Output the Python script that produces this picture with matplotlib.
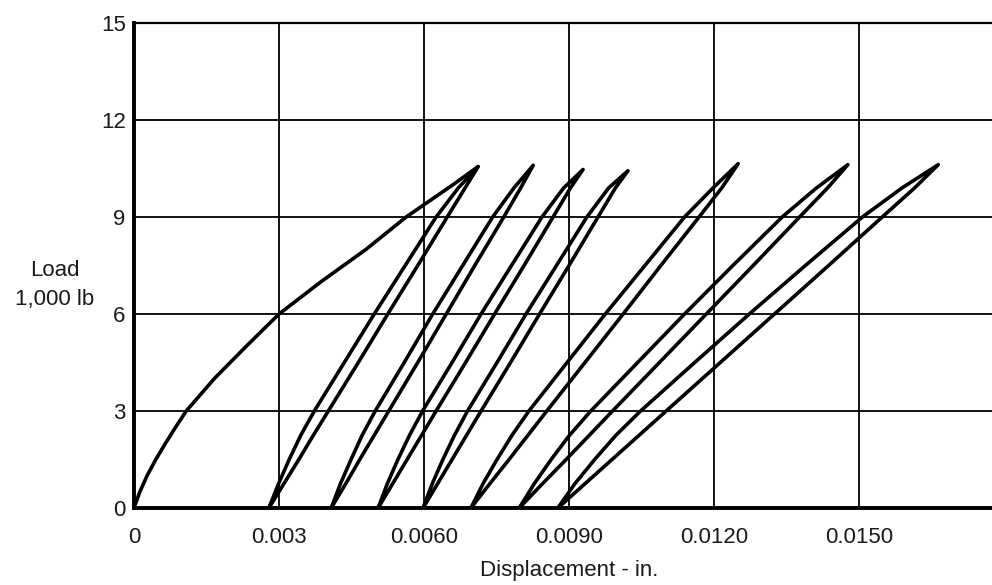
import numpy as np
import matplotlib.pyplot as plt

plt.rcParams['font.family'] = ['Liberation Sans', 'DejaVu Sans']

# ---- data ----
# first (virgin) loading curve
virgin_disp = [0, 0.00012, 0.00027, 0.00045, 0.00065, 0.00086, 0.00108, 0.00166, 0.00232,
               0.0030, 0.00387, 0.0048, 0.00563, 0.0066, 0.00712]
virgin_load = [0, 0.5, 1, 1.5, 2, 2.5, 3, 4, 5, 6, 7, 8, 9, 10, 10.56]

# load levels where the loop branches were read
load_levels = [0, 0.75, 1.5, 2.25, 3, 4.5, 6, 7.5, 9, 9.9]

# peak of each loop
peak_disp = [0.00712, 0.00826, 0.00929, 0.01022, 0.01250, 0.01477, 0.01664]
peak_load = [10.56, 10.60, 10.47, 10.43, 10.65, 10.62, 10.62]

# left (upper) branch of each loop, displacement at load_levels
left_1 = [0.00279, 0.00299, 0.00321, 0.00345, 0.00373, 0.00435, 0.00497, 0.00561, 0.00625, 0.00671]
left_2 = [0.00408, 0.00427, 0.00449, 0.00472, 0.00499, 0.00559, 0.00618, 0.00680, 0.00742, 0.00786]
left_3 = [0.00505, 0.00524, 0.00546, 0.00570, 0.00597, 0.00658, 0.00718, 0.00781, 0.00844, 0.00889]
left_4 = [0.00598, 0.00617, 0.00639, 0.00663, 0.00690, 0.00751, 0.00811, 0.00874, 0.00937, 0.00982]
left_5 = [0.00697, 0.00722, 0.00751, 0.00782, 0.00817, 0.00896, 0.00975, 0.01057, 0.01139, 0.01198]
left_6 = [0.00797, 0.00828, 0.00863, 0.00901, 0.00945, 0.01042, 0.01139, 0.01239, 0.01341, 0.01412]
left_7 = [0.00877, 0.00912, 0.00953, 0.00997, 0.01048, 0.01160, 0.01273, 0.01389, 0.01507, 0.01589]

# right (lower) branch of each loop
right_1 = [0.00279, 0.00310, 0.00341, 0.00371, 0.00402, 0.00464, 0.00525, 0.00587, 0.00648, 0.00685]
right_2 = [0.00408, 0.00438, 0.00467, 0.00497, 0.00527, 0.00587, 0.00646, 0.00705, 0.00765, 0.00800]
right_3 = [0.00505, 0.00535, 0.00565, 0.00595, 0.00625, 0.00686, 0.00746, 0.00807, 0.00867, 0.00903]
right_4 = [0.00598, 0.00628, 0.00658, 0.00688, 0.00718, 0.00779, 0.00839, 0.00900, 0.00960, 0.00996]
right_5 = [0.00697, 0.00736, 0.00776, 0.00815, 0.00854, 0.00933, 0.01012, 0.01090, 0.01169, 0.01216]
right_6 = [0.00797, 0.00845, 0.00894, 0.00942, 0.00990, 0.01087, 0.01184, 0.01281, 0.01377, 0.01435]
right_7 = [0.00877, 0.00933, 0.00989, 0.01045, 0.01101, 0.01213, 0.01325, 0.01437, 0.01548, 0.01615]

lefts = [left_1, left_2, left_3, left_4, left_5, left_6, left_7]
rights = [right_1, right_2, right_3, right_4, right_5, right_6, right_7]

x_ticks = [0, 0.003, 0.006, 0.009, 0.012, 0.015, 0.018]
x_ticklabels = ["0", "0.003", "0.0060", "0.0090", "0.0120", "0.0150", ""]
y_ticks = [0, 3, 6, 9, 12, 15]

# ---- plotting ----
fig = plt.figure(figsize=(9.92, 5.85), dpi=100)
# axes runs past the right edge of the picture like the scanned original
ax = fig.add_axes([0.1351, 0.1316, 0.877, 0.829])

lw = 2.6
ax.plot(virgin_disp, virgin_load, color='black', lw=lw, solid_capstyle='round', solid_joinstyle='round')
for i in range(len(lefts)):
    xs = lefts[i] + [peak_disp[i]] + rights[i][::-1]
    ys = load_levels + [peak_load[i]] + load_levels[::-1]
    ax.plot(xs, ys, color='black', lw=lw, solid_capstyle='round', solid_joinstyle='round')

ax.set_xlim(0, 0.018)
ax.set_ylim(0, 15)
ax.set_xticks(x_ticks)
ax.set_xticklabels(x_ticklabels)
ax.set_yticks(y_ticks)
ax.grid(True, color='black', lw=1.3)
ax.set_axisbelow(True)

for side in ['left', 'bottom']:
    ax.spines[side].set_linewidth(2.8)
for side in ['top', 'right']:
    ax.spines[side].set_linewidth(1.6)

ax.tick_params(axis='both', length=0, labelsize=16, colors='#1a1a1a')
ax.tick_params(axis='y', pad=6)
ax.tick_params(axis='x', pad=14)

ax.set_xlabel("Displacement - in.", fontsize=16, color='#1a1a1a', labelpad=8)
fig.text(55 / 992, 1 - 270 / 585, "Load", fontsize=16, ha='center', va='center', color='#1a1a1a')
fig.text(55 / 992, 1 - 300 / 585, "1,000 lb", fontsize=16, ha='center', va='center', color='#1a1a1a')

fig.savefig("out.png", dpi=100)
